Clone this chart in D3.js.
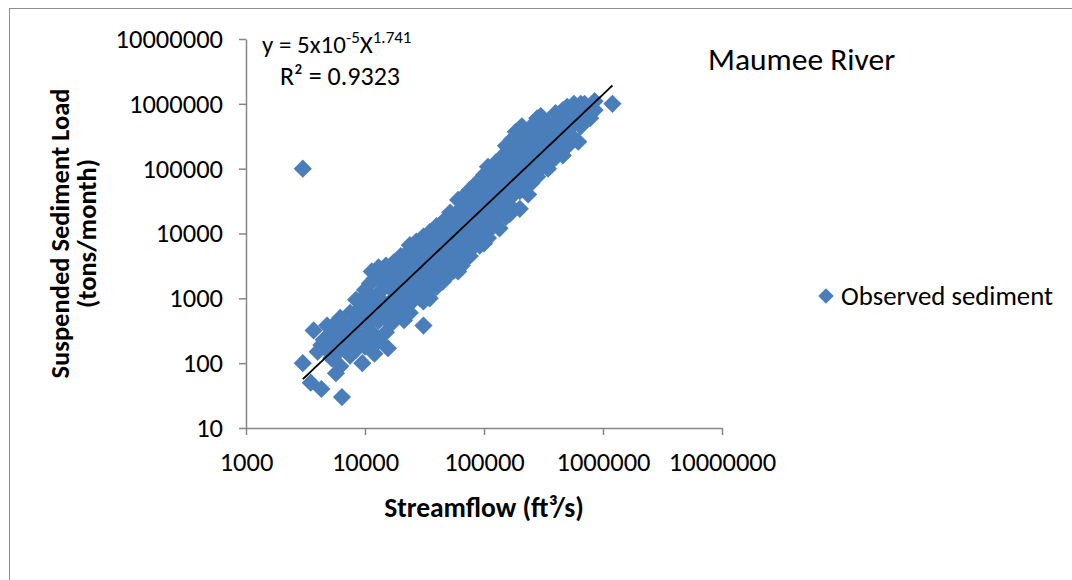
<!DOCTYPE html>
<html>
<head>
<meta charset="utf-8">
<script src="https://cdn.jsdelivr.net/npm/d3@7"></script>
<style>
  html, body { margin: 0; padding: 0; background: #fff; }
  svg { display: block; }
  text { font-family: Carlito, Calibri, Lato, sans-serif; fill: #000; }
</style>
</head>
<body>
<svg id="chart" width="1072" height="580"></svg>
<script>
// ---- data ----
const chartTitle = "Maumee River";
const seriesName = "Observed sediment";
const xTitle = "Streamflow (ft³/s)";
const yTitleLines = ["Suspended Sediment Load", "(tons/month)"];
const xTicks = [1000, 10000, 100000, 1000000, 10000000];
const yTicks = [10, 100, 1000, 10000, 100000, 1000000, 10000000];
const trendCoef = 5e-5;
const trendExp = 1.741;
const rSquared = "0.9323";

// [streamflow ft3/s, suspended sediment load tons/month]
const observed = [
  [3000, 100000], [3000, 100], [3500, 50], [3700, 320], [4000, 150],
  [4300, 40], [4300, 190], [4500, 230], [4800, 380], [4800, 160], [5000, 200],
  [5200, 280], [5200, 120], [5700, 70], [5700, 220], [5700, 420], [6000, 150],
  [6200, 500], [6200, 260], [6200, 90], [6400, 30], [6600, 300], [7000, 350], [7000, 180],
  [7200, 250], [7500, 600], [7500, 130], [7800, 190], [8000, 250], [8000, 420],
  [8400, 950], [8400, 300], [8400, 160], [8800, 220], [9000, 700], [9000, 450],
  [9500, 1000], [9500, 250], [9500, 100], [10000, 1350], [10000, 600], [10000, 180],
  [10500, 800], [10500, 380], [11000, 1700], [11000, 500], [11000, 200],
  [11400, 2600], [11400, 1000], [11400, 300], [12000, 2000], [12000, 700], [12000, 140],
  [13000, 3000], [13000, 1200], [13000, 450], [13000, 220], [14000, 1800], [14000, 900],
  [15000, 3200], [15000, 600], [15000, 300], [15600, 2400], [15600, 170],
  [16500, 1400], [16500, 800], [16500, 400],
  [17500, 3600], [17500, 2000], [17500, 1000], [17500, 550],
  [19000, 2800], [19000, 1500], [19000, 700], [20000, 4500], [20000, 1200], [20000, 900],
  [21300, 3000], [21300, 460], [21300, 2000], [22500, 5000], [22500, 1600], [22500, 800],
  [23800, 6600], [23800, 2600], [23800, 1100], [23800, 600],
  [25000, 4000], [25000, 1800], [25000, 900], [27000, 7500], [27000, 3000], [27000, 1300],
  [29000, 5500], [29000, 2200], [29000, 1000],
  [31000, 9000], [31000, 4000], [31000, 1600], [31000, 900], [31000, 380],
  [33000, 6500], [33000, 2600], [33000, 1200],
  [35000, 10500], [35000, 5000], [35000, 2000], [35000, 1000],
  [38000, 8000], [38000, 3500], [38000, 1600],
  [40000, 13000], [40000, 6000], [40000, 2600], [40000, 1500],
  [42700, 13500], [42700, 4500], [42700, 2000],
  [45000, 10000], [45000, 7000], [45000, 3000], [45000, 1800],
  [48000, 17000], [48000, 5500], [48000, 2500],
  [52000, 21000], [52000, 12000], [52000, 8000], [52000, 4000], [52000, 2400],
  [56000, 15000], [56000, 6000], [56000, 2700],
  [60600, 33000], [60600, 20000], [60600, 9000], [60600, 4000], [60600, 2600],
  [65000, 25000], [65000, 14000], [65000, 6000], [65000, 3200],
  [70000, 40000], [70000, 11000], [70000, 4500],
  [76000, 47000], [76000, 30000], [76000, 18000], [76000, 8000], [76000, 4500],
  [80000, 24000], [80000, 12000], [80000, 6000],
  [85000, 58000], [85000, 35000], [85000, 16000], [85000, 8500],
  [92000, 45000], [92000, 22000], [92000, 11000], [92000, 6500],
  [100000, 80000], [100000, 30000], [100000, 15000], [100000, 7000],
  [108000, 107000], [108000, 60000], [108000, 40000], [108000, 20000], [108000, 8500],
  [115000, 50000], [115000, 28000], [115000, 12000],
  [126000, 125000], [126000, 75000], [126000, 35000], [126000, 16000],
  [135000, 90000], [135000, 50000], [135000, 22000], [135000, 12000],
  [145000, 160000], [145000, 65000], [145000, 30000],
  [153000, 225000], [153000, 110000], [153000, 45000], [153000, 18000],
  [160000, 55000], [165000, 140000], [165000, 80000], [165000, 35000], [165000, 20000],
  [171000, 280000], [171000, 60000], [171000, 25000],
  [185000, 370000], [185000, 200000], [185000, 120000], [185000, 45000], [190000, 70000],
  [200000, 350000], [200000, 160000], [200000, 90000], [200000, 45000], [200000, 24000],
  [208000, 450000], [208000, 250000],
  [220000, 180000], [220000, 110000], [220000, 55000], [230000, 80000],
  [235000, 300000], [235000, 140000], [235000, 40000],
  [250000, 400000], [250000, 220000], [250000, 100000], [250000, 60000],
  [262000, 490000], [262000, 170000],
  [280000, 600000], [280000, 300000], [280000, 130000], [280000, 75000],
  [300000, 650000], [300000, 400000], [300000, 200000], [300000, 100000],
  [320000, 260000], [320000, 150000],
  [345000, 500000], [345000, 300000], [345000, 180000], [345000, 100000],
  [370000, 380000], [370000, 220000], [370000, 130000],
  [400000, 720000], [400000, 500000], [400000, 300000], [400000, 150000],
  [430000, 400000], [430000, 250000], [430000, 180000],
  [460000, 800000], [460000, 550000], [460000, 300000], [460000, 160000],
  [500000, 900000], [500000, 600000], [500000, 380000], [500000, 220000],
  [520000, 350000], [540000, 700000], [540000, 450000], [540000, 280000],
  [570000, 1000000], [570000, 800000], [570000, 500000],
  [600000, 650000], [620000, 260000],
  [650000, 1000000], [650000, 750000], [650000, 450000],
  [700000, 1000000], [700000, 850000], [700000, 600000],
  [780000, 900000], [780000, 600000],
  [850000, 1100000], [850000, 800000],
  [1200000, 1000000]
];

// ---- drawing ----
const svg = d3.select("#chart");
const axisColor = "#868686";
const markerColor = "#4a7ebb";
const fontFam = "Carlito, Calibri, Lato, sans-serif";

// chart area border
svg.append("rect")
  .attr("x", 9.5).attr("y", 8.5)
  .attr("width", 1200).attr("height", 700)
  .attr("fill", "none").attr("stroke", "#8e8e8e").attr("stroke-width", 1);

const x = d3.scaleLog().domain([1000, 10000000]).range([246, 722]);
const y = d3.scaleLog().domain([10, 10000000]).range([428, 39]);

const fmt = d3.format("d");

const gx = svg.append("g").attr("transform", `translate(0,${y(10)})`)
  .call(d3.axisBottom(x).tickValues(xTicks).tickFormat(fmt).tickSize(7).tickSizeOuter(0).tickPadding(17));
const gy = svg.append("g").attr("transform", `translate(${x(1000)},0)`)
  .call(d3.axisLeft(y).tickValues(yTicks).tickFormat(fmt).tickSize(7).tickSizeOuter(0).tickPadding(16));

[gx, gy].forEach(g => {
  g.select(".domain").attr("stroke", axisColor).attr("stroke-width", 1.5);
  g.selectAll(".tick line").attr("stroke", axisColor).attr("stroke-width", 1.5);
  g.selectAll(".tick text")
    .attr("fill", "#000")
    .style("font-family", fontFam)
    .style("font-size", "26.5px");
});

// scatter markers (diamonds)
const diamond = d3.symbol().type(d3.symbolSquare).size(165);
svg.append("g").selectAll("path")
  .data(observed)
  .join("path")
  .attr("d", diamond)
  .attr("transform", d => `translate(${x(d[0])},${y(d[1])}) rotate(45)`)
  .attr("fill", markerColor);

// power trendline
const qMin = d3.min(observed, d => d[0]);
const qMax = d3.max(observed, d => d[0]);
const trendPts = d3.range(0, 101).map(i => {
  const q = Math.pow(10, Math.log10(qMin) + (Math.log10(qMax) - Math.log10(qMin)) * i / 100);
  return [q, trendCoef * Math.pow(q, trendExp)];
});
svg.append("path")
  .datum(trendPts)
  .attr("d", d3.line().x(d => x(d[0])).y(d => y(d[1])))
  .attr("fill", "none").attr("stroke", "#000").attr("stroke-width", 1.8);

// equation label
const eq = svg.append("text").attr("x", 262).attr("y", 53).style("font-size", "25px");
eq.append("tspan").text("y = 5x10");
eq.append("tspan").attr("dy", -10).style("font-size", "17px").text("-5");
eq.append("tspan").attr("dy", 10).text("X");
eq.append("tspan").attr("dy", -10).style("font-size", "17px").text("1.741");
svg.append("text").attr("x", 280).attr("y", 85).style("font-size", "26px")
  .text(`R² = ${rSquared}`);

// title
svg.append("text").attr("x", 708).attr("y", 70).style("font-size", "31.5px").text(chartTitle);

// axis titles
svg.append("text").attr("x", x(Math.sqrt(1000 * 10000000))).attr("y", 517)
  .attr("text-anchor", "middle").style("font-size", "27.5px").style("font-weight", "bold")
  .text(xTitle);

const yt = svg.append("g").attr("transform", `translate(0,${(y(10) + y(10000000)) / 2}) rotate(-90)`);
yTitleLines.forEach((t, i) => {
  yt.append("text").attr("x", 0).attr("y", 69 + i * 27)
    .attr("text-anchor", "middle").style("font-size", "26.5px").style("font-weight", "bold")
    .text(t);
});

// legend
const lg = svg.append("g").attr("transform", "translate(826,296)");
lg.append("path").attr("d", d3.symbol().type(d3.symbolSquare).size(120)).attr("transform", "rotate(45)").attr("fill", markerColor);
lg.append("text").attr("x", 15).attr("y", 9).style("font-size", "26.8px").text(seriesName);
</script>
</body>
</html>
